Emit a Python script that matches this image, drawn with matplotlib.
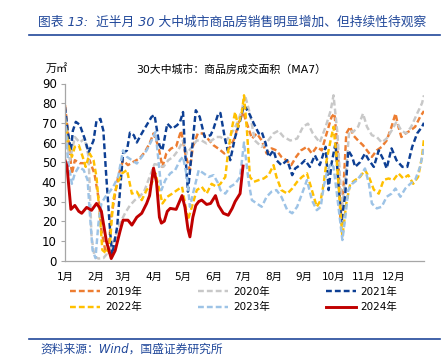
import matplotlib
matplotlib.use('Agg')
import matplotlib.pyplot as plt
from matplotlib.lines import Line2D

plt.rcParams['font.family'] = ['DejaVu Sans', 'Noto Sans CJK SC']

# day of year (0 = 1 Jan) and MA7 value (万㎡)
d2019 = [0, 3, 7, 10, 15, 20, 25, 30, 34, 37, 41, 44, 47, 51, 54, 59, 64, 69, 76, 81,
         86, 90, 95, 99, 103, 108, 113, 118, 123, 127, 130, 135, 140, 145, 151, 157, 162, 168, 173, 176,
         181, 185, 190, 195, 200, 205, 210, 215, 220, 225, 230, 235, 240, 246, 251, 256, 261, 266, 271, 274,
         278, 280, 283, 286, 290, 293, 298, 303, 307, 312, 317, 322, 327, 332, 336, 339, 342, 346, 351, 356,
         361, 365]
v2019 = [79, 65, 44, 51, 49.5, 49.5, 51, 44, 32, 15.5, 5, 4, 22, 34, 42.5, 51, 48.5, 50, 52, 55,
         59.5, 64.6, 58, 47.6, 54.4, 57, 58, 66, 52.7, 46, 58, 64.6, 64.6, 62, 58.6, 56.5, 54.4, 57.8, 62.8, 69.6,
         75.5, 69.6, 62, 64.6, 61, 54.4, 57, 56, 52.7, 51, 48.5, 52.7, 56, 57.8, 54.4, 57.8, 56, 64.6, 73, 74.7,
         51, 22, 35.8, 64.6, 68, 63.7, 61, 58.6, 56, 52.7, 56, 57.8, 61, 68, 74.7, 68, 62.8, 64.6, 66, 68,
         73, 76]

d2020 = [0, 5, 10, 15, 20, 24, 27, 30, 34, 39, 42, 46, 51, 56, 61, 66, 71, 76, 81, 86,
         91, 96, 100, 105, 110, 115, 120, 124, 129, 134, 139, 144, 149, 154, 158, 164, 171, 176, 180, 183,
         188, 193, 200, 205, 212, 217, 222, 229, 236, 242, 247, 252, 259, 265, 270, 273, 277, 280, 282, 286,
         289, 293, 298, 303, 307, 312, 317, 322, 327, 332, 337, 342, 347, 352, 358, 363, 365]
v2020 = [66, 51, 62.8, 60, 62, 52.7, 12, 2, 1, 1.2, 3, 6, 12, 19, 24, 28, 30.7, 32.4, 35.8, 42.5,
         49, 48.5, 47.6, 51, 52.7, 56, 61, 54.4, 57.8, 61, 61, 59.5, 61, 62.8, 62.8, 61, 66, 71, 77, 84,
         74.7, 61, 57.8, 60, 64.6, 66, 63, 61, 62, 68, 69.6, 64.6, 60, 68, 76, 84, 64.6, 39, 27, 47.6,
         66, 65.4, 68, 74.7, 68, 63.7, 62.8, 60, 62, 66, 70.5, 66, 64.6, 68, 74.7, 80, 84]

d2021 = [0, 3, 6, 8, 11, 15, 20, 24, 29, 32, 36, 39, 42, 46, 48, 53, 56, 59, 63, 66,
         70, 73, 78, 83, 88, 91, 96, 99, 104, 109, 114, 117, 120, 122, 125, 129, 133, 137, 142, 148,
         151, 156, 158, 163, 168, 173, 178, 182, 187, 192, 197, 200, 204, 207, 212, 215, 220, 226, 231, 234,
         239, 244, 249, 254, 259, 265, 268, 271, 275, 278, 281, 285, 288, 292, 295, 300, 305, 309, 314, 319,
         324, 327, 332, 337, 343, 348, 353, 358, 363, 365]
v2021 = [78, 65, 56, 66, 70.5, 69, 62, 55, 61, 71, 72, 66, 42.5, 14, 3, 17, 36, 54.4, 56, 65,
         63.7, 60, 64.6, 68.8, 73, 74, 58.6, 56, 69.6, 67, 68.8, 70.5, 75.5, 56, 35, 56, 76.4, 73, 62.8, 63.7,
         67, 75, 75, 61, 51, 62.8, 71, 79, 75, 69.6, 64.6, 65.4, 59.6, 52.7, 56, 51, 48.5, 51, 43.4, 46.8,
         48.5, 51, 47.6, 53.5, 48.5, 57.8, 35.8, 49.3, 59.5, 39, 19, 34, 56, 52.7, 47.6, 50, 54.4, 51, 47.6, 56,
         51, 46.8, 57, 51, 47.6, 47.6, 57.8, 64.6, 68, 70]

d2022 = [0, 3, 7, 10, 14, 18, 21, 25, 29, 32, 36, 38, 42, 46, 49, 53, 58, 63, 68, 73,
         78, 83, 88, 92, 96, 99, 104, 109, 114, 119, 122, 125, 129, 134, 139, 144, 149, 154, 158, 163,
         166, 170, 173, 176, 180, 182, 185, 188, 192, 197, 202, 207, 212, 215, 220, 226, 231, 236, 241, 246,
         251, 256, 260, 263, 266, 270, 273, 276, 280, 282, 286, 290, 295, 300, 305, 309, 314, 319, 324, 329,
         334, 339, 344, 349, 354, 359, 363, 365]
v2022 = [72, 59.5, 52.7, 57.8, 58.6, 52.7, 47.6, 54.4, 51, 42.5, 19, 5.3, 3.6, 10.4, 30.7, 39, 44.3, 46, 34, 35,
         30.7, 35.8, 39, 44.3, 35.8, 29, 32.4, 34, 35.8, 37.5, 29, 20.6, 27.3, 35.8, 37.5, 34, 39, 37.5, 39, 42.5,
         56, 68, 75.5, 68, 76, 84, 66, 42.5, 40, 40.9, 41.7, 43.4, 48.5, 42.5, 35.8, 34, 36.6, 40, 42.5, 44.3,
         35.8, 27.3, 30.7, 39, 51, 61, 68, 52.7, 25.6, 12, 29, 39, 40.9, 42.5, 46, 42.5, 36, 34, 41, 41.7,
         40.9, 44.3, 41.7, 43.4, 39, 42.5, 52.7, 62]

d2023 = [0, 3, 7, 10, 14, 19, 23, 25, 28, 31, 34, 37, 41, 44, 49, 54, 59, 63, 68, 73,
         78, 83, 88, 92, 95, 98, 102, 107, 112, 117, 120, 124, 127, 131, 136, 141, 146, 151, 156, 158,
         163, 168, 173, 178, 182, 187, 190, 195, 200, 205, 210, 215, 220, 226, 231, 236, 241, 246, 251, 256,
         260, 263, 266, 270, 273, 276, 280, 282, 285, 288, 292, 297, 302, 305, 309, 312, 317, 322, 327, 332,
         336, 341, 346, 351, 356, 361, 365]
v2023 = [73, 51, 39, 44.3, 47.6, 46, 40.9, 25.6, 5.3, 1.2, 19, 29, 32.4, 34, 37.5, 42.5, 56, 52.7, 51, 49.3,
         52.7, 56, 61, 65.4, 51, 35.8, 40.9, 44.3, 46, 51, 52.7, 42.5, 27.3, 35.8, 46, 44.3, 42.5, 43.4, 39, 35.8,
         34, 37.5, 39, 42.5, 60, 39, 30.7, 29, 27.3, 32.4, 35, 35.8, 32.4, 25.6, 24, 27.3, 34, 40.9, 30.7, 25.6,
         27.3, 37.5, 44.3, 49.3, 47.6, 35.8, 19, 10.4, 22, 35.8, 39, 40.9, 44.3, 46.8, 39, 29, 26.5, 27.3, 32.4, 34,
         36.6, 32.4, 36.6, 39, 40.9, 47.6, 57]

d2024 = [0, 2, 6, 10, 14, 17, 22, 27, 32, 35, 37, 42, 47, 51, 56, 59, 64, 68, 73, 78,
         83, 86, 90, 93, 96, 98, 101, 104, 107, 113, 119, 122, 125, 127, 130, 133, 136, 139, 144, 148,
         153, 156, 161, 166, 170, 173, 178, 181]
v2024 = [51, 48, 26, 28, 25, 24, 27, 25.5, 29, 27, 25, 10, 1, 5, 15, 20.5, 20.5, 18, 22, 24,
         29, 33, 47, 40, 22, 19, 20, 25, 26.5, 26, 33, 27, 16, 12, 22, 28, 30, 30.7, 28.5, 29,
         33, 28, 24, 23, 26.5, 30, 34, 48]

month_pos = [0, 31, 59, 90, 120, 151, 181, 212, 243, 273, 304, 334]
month_lbl = ['1月', '2月', '3月', '4月', '5月', '6月', '7月', '8月', '9月', '10月', '11月', '12月']

blue = '#21489A'
dash = (0, (2.4, 1.25))

fig = plt.figure(figsize=(4.43, 3.6), dpi=100)
ax = fig.add_axes([65 / 443, 99.5 / 360, 359 / 443, 177 / 360])

l19, = ax.plot(d2019, v2019, color='#ED7D31', lw=1.75, ls=dash, label='2019年')
l20, = ax.plot(d2020, v2020, color='#C8C8C8', lw=1.75, ls=dash, label='2020年')
l21, = ax.plot(d2021, v2021, color='#0D3F94', lw=1.75, ls=dash, label='2021年')
l22, = ax.plot(d2022, v2022, color='#FFC000', lw=1.75, ls=dash, label='2022年')
l23, = ax.plot(d2023, v2023, color='#9DC3E6', lw=1.75, ls=dash, label='2023年')
l24, = ax.plot(d2024, v2024, color='#C00000', lw=2.1, label='2024年')

ax.set_xlim(0, 365)
ax.set_ylim(0, 90)
ax.set_yticks(range(0, 91, 10))
ax.set_xticks(month_pos)
ax.set_xticklabels(month_lbl)
ax.tick_params(axis='y', labelsize=8.5, length=3, color='#A6A6A6', pad=3)
ax.tick_params(axis='x', labelsize=7.5, length=0, pad=8)
for s in ['top', 'right']:
    ax.spines[s].set_visible(False)
for s in ['left', 'bottom']:
    ax.spines[s].set_color('#A6A6A6')
    ax.spines[s].set_linewidth(0.9)

fig.text(231 / 443, 1 - 70 / 360, '30大中城市：商品房成交面积（MA7）', ha='center', va='center', fontsize=7.8)
fig.text(57 / 443, 1 - 68 / 360, '万㎡', ha='center', va='center', fontsize=8)

hs = [l19, l22, l20, l23, l21, l24]
fig.legend(handles=hs, labels=[h.get_label() for h in hs], ncol=3, frameon=False,
           loc='upper left', bbox_to_anchor=(70 / 443, 1 - 287 / 360),
           fontsize=7.5, handlelength=2.9, handletextpad=0.45, columnspacing=5.4,
           labelspacing=0.5, borderpad=0, borderaxespad=0)

fig.text(38 / 443, 1 - 22 / 360, '图表 13:  近半月 30 大中城市商品房销售明显增加、但持续性待观察',
         color=blue, fontsize=9.2, style='italic', ha='left', va='center')
fig.add_artist(Line2D([29 / 443, 440 / 443], [1 - 35 / 360, 1 - 35 / 360], color=blue, lw=1.2))
fig.add_artist(Line2D([29 / 443, 440 / 443], [1 - 339 / 360, 1 - 339 / 360], color=blue, lw=1.2))
fig.text(40 / 443, 1 - 349 / 360, '资料来源：Wind，国盛证券研究所',
         color=blue, fontsize=8.5, style='italic', ha='left', va='center')

fig.savefig('out.png', dpi=100)
